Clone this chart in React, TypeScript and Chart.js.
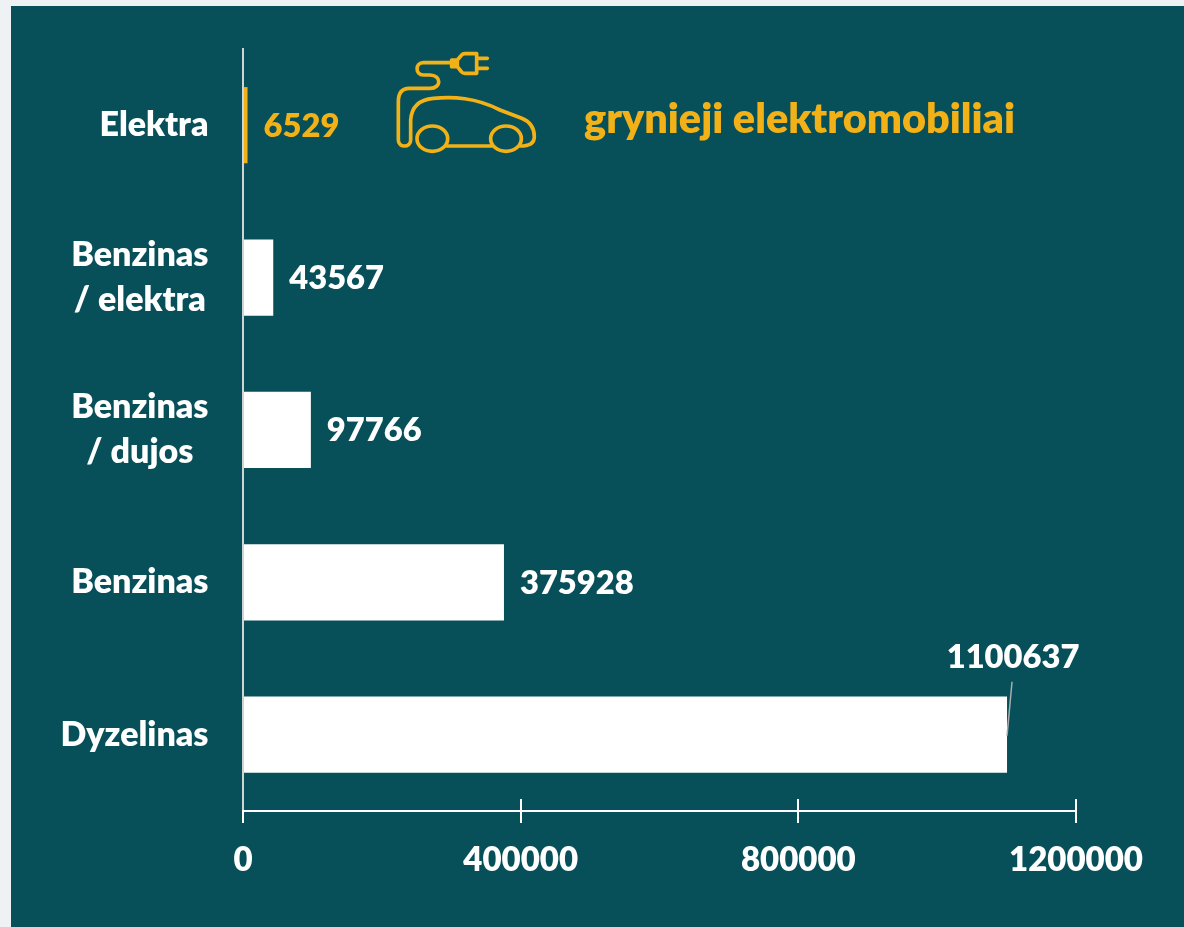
import React, { useEffect, useRef } from "react";
import { Chart, registerables } from "chart.js";

Chart.register(...registerables);

const categories: string[][] = [["Elektra"], ["Benzinas", "/ elektra"], ["Benzinas", "/ dujos"], ["Benzinas"], ["Dyzelinas"]];
const values: number[] = [6529, 43567, 97766, 375928, 1100637];
const xTicks: number[] = [0, 400000, 800000, 1200000];
const annotation = "grynieji elektromobiliai";

const PANEL = "#075059";
const PAGE = "#eef2f5";
const AMBER = "#f2b117";
const AXIS = "#cfd5d6";
const FONT = "Lato, Carlito, sans-serif";
const barColors = values.map((_, i) => (i === 0 ? AMBER : "#ffffff"));

const CAR_PATH =
  "M215 68 L130 68 C105 68 105 105 130 105 L150 105 C185 105 185 145 150 145 L88 145 C65 145 55 160 55 185 L55 300 C55 324 92 324 92 300 L92 240 C95 195 125 178 160 175 C220 170 285 172 360 210 L425 235 C455 247 463 270 463 290 C463 310 445 318 420 318 M200 318 L335 318 " +
  "M215 60 L232 60 L232 80 L215 80 Z M232 60 L245 45 Q248 41 255 41 L290 41 L290 100 L255 100 Q248 100 245 96 L232 80 M290 55 L322 55 M290 85 L322 85 M225 66 L225 74";

const panel = {
  id: "panel",
  beforeDraw(chart: any) {
    const { ctx, width, height } = chart;
    ctx.save();
    ctx.fillStyle = PANEL;
    ctx.fillRect(11, 6, width - 11, height - 6);
    ctx.restore();
  },
};

const overlay = {
  id: "overlay",
  afterDatasetsDraw(chart: any) {
    const { ctx, scales } = chart;
    const x = scales.x;
    const y = scales.y;
    const bars = chart.getDatasetMeta(0).data;
    ctx.save();

    // upper half of the x-axis ticks
    ctx.strokeStyle = "#ffffff";
    ctx.lineWidth = 2;
    xTicks.slice(1).forEach((v) => {
      const px = Math.round(x.getPixelForValue(v));
      ctx.beginPath();
      ctx.moveTo(px, x.top - 12);
      ctx.lineTo(px, x.top);
      ctx.stroke();
    });

    // category labels
    ctx.font = `800 34px ${FONT}`;
    ctx.fillStyle = "#ffffff";
    ctx.textBaseline = "middle";
    const lineH = 45;
    categories.forEach((lines, i) => {
      const cy = y.getPixelForTick(i);
      const w = Math.max(...lines.map((l) => ctx.measureText(l).width));
      lines.forEach((l, j) => {
        const ly = cy + (j - (lines.length - 1) / 2) * lineH;
        ctx.textAlign = "center";
        ctx.fillText(l, 208.5 - w / 2, ly);
      });
    });

    // value labels
    ctx.font = `800 32.7px ${FONT}`;
    values.forEach((v, i) => {
      const b = bars[i];
      ctx.fillStyle = i === 0 ? AMBER : "#ffffff";
      if (i === values.length - 1) {
        ctx.textAlign = "center";
        ctx.fillText(String(v), b.x + 6, b.y - 77);
      } else {
        ctx.textAlign = "left";
        ctx.fillText(String(v), b.x + 16, b.y + 1);
      }
    });

    // leader line of the last label
    const last = bars[values.length - 1];
    ctx.strokeStyle = "#a9adae";
    ctx.lineWidth = 1.5;
    ctx.beginPath();
    ctx.moveTo(last.x + 5, last.y - 53);
    ctx.lineTo(last.x, last.y + 1);
    ctx.stroke();

    // annotation
    ctx.fillStyle = AMBER;
    ctx.textAlign = "left";
    ctx.font = `800 41.4px ${FONT}`;
    ctx.fillText(annotation, 584, 120);

    // car icon
    ctx.translate(380, 40);
    ctx.scale(1 / 3, 1 / 3);
    ctx.strokeStyle = AMBER;
    ctx.lineWidth = 11;
    ctx.lineJoin = "round";
    ctx.lineCap = "round";
    ctx.stroke(new Path2D(CAR_PATH));
    [157, 378].forEach((cx) => {
      ctx.beginPath();
      ctx.ellipse(cx, 296, 46, 38, 0, 0, Math.PI * 2);
      ctx.stroke();
    });
    ctx.restore();
  },
};

export default function App() {
  const ref = useRef<HTMLCanvasElement | null>(null);
  useEffect(() => {
    document.body.style.margin = "0";
    const chart = new Chart(ref.current as HTMLCanvasElement, {
      type: "bar",
      data: {
        labels: categories.map((c) => c.join(" ")),
        datasets: [
          {
            data: values,
            backgroundColor: barColors,
            borderWidth: 0,
            barPercentage: 0.5,
            categoryPercentage: 1,
          },
        ],
      },
      options: {
        indexAxis: "y",
        animation: false,
        responsive: false,
        layout: { padding: { left: 235, top: 49, right: 108, bottom: 28.5 } },
        plugins: { legend: { display: false }, tooltip: { enabled: false } },
        scales: {
          y: {
            ticks: { display: false },
            grid: { display: false },
            border: { display: true, color: AXIS, width: 2 },
          },
          x: {
            min: 0,
            max: 1200000,
            afterBuildTicks: (axis: any) => {
              axis.ticks = xTicks.map((value) => ({ value }));
            },
            ticks: {
              color: "#ffffff",
              font: { family: FONT, size: 33, weight: "800" },
              padding: 18,
              maxRotation: 0,
              autoSkip: false,
              callback: (v: any) => String(v),
            },
            grid: { drawOnChartArea: false, drawTicks: true, tickLength: 12, color: "#ffffff", lineWidth: 2 },
            border: { display: true, color: "#ffffff", width: 2 },
          },
        },
      },
      plugins: [panel, overlay],
    } as any);
    return () => chart.destroy();
  }, []);
  return (
    <div style={{ position: "absolute", left: 0, top: 0, width: 1184, height: 927, background: PAGE }}>
      <canvas ref={ref} width={1184} height={927} style={{ display: "block", width: 1184, height: 927 }} />
    </div>
  );
}
